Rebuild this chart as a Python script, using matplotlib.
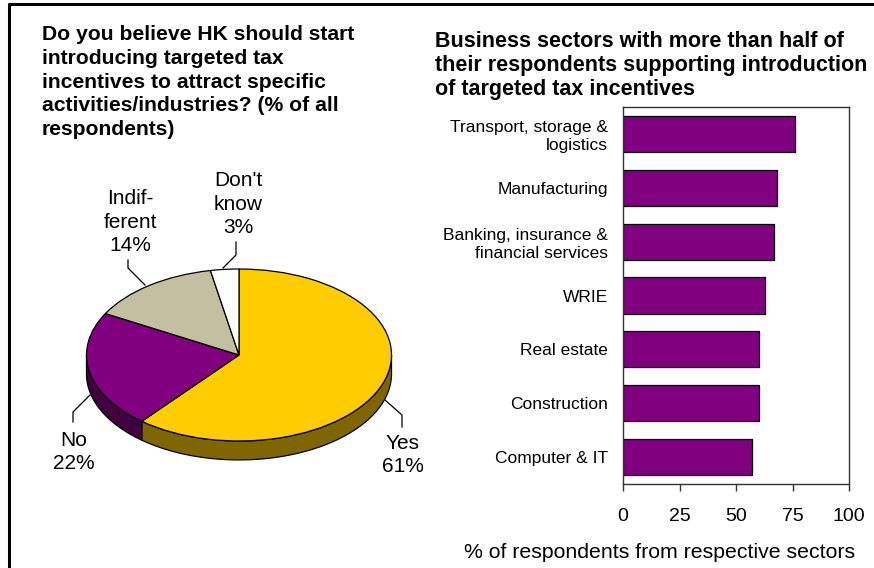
import numpy as np
import matplotlib
matplotlib.use("Agg")
import matplotlib.pyplot as plt

plt.rcParams["font.family"] = ["Liberation Sans", "DejaVu Sans"]

# survey answers (% of all respondents)
pie_labels = ["Yes", "No", "Indif-\nferent", "Don't\nknow"]
pie_values = [61, 22, 14, 3]
pie_colors = ["#FFCC00", "#800080", "#C3BFA1", "#FFFFFF"]
pie_side_colors = ["#806600", "#400040", "#62604F", "#808080"]

# sectors with majority support
sectors = [
    "Transport, storage &\nlogistics",
    "Manufacturing",
    "Banking, insurance &\nfinancial services",
    "WRIE",
    "Real estate",
    "Construction",
    "Computer & IT",
]
sector_values = [76, 68, 67, 63, 60, 60, 57]

W, H = 874, 568


def px_rect(left, top, right, bottom):
    return [left / W, 1 - bottom / H, (right - left) / W, (bottom - top) / H]


fig = plt.figure(figsize=(W / 100, H / 100), dpi=100)

# ---- 3D-looking pie ----
cx, cy, a, b, depth = 239, 355, 152.5, 86, 0.22
pl, pt, pr, pb = 20, 160, 440, 520
ax_pie = fig.add_axes(px_rect(pl, pt, pr, pb))

fracs = np.array(pie_values) / sum(pie_values)
bounds = 90 - 360 * np.concatenate([[0], np.cumsum(fracs)])
for i in range(len(pie_values)):
    lo = max(bounds[i + 1], -180)
    hi = min(bounds[i], 0)
    if lo >= hi:
        continue
    th = np.radians(np.linspace(lo, hi, 80))
    xs = np.cos(th)
    ys = np.sin(th)
    ax_pie.fill(np.r_[xs, xs[::-1]], np.r_[ys, ys[::-1] - depth],
                facecolor=pie_side_colors[i], edgecolor="black", linewidth=0.9)

ax_pie.pie(pie_values, colors=pie_colors, startangle=90, counterclock=False,
           wedgeprops=dict(edgecolor="black", linewidth=0.9))
ax_pie.set_aspect("auto")
ax_pie.set_xlim(-(cx - pl) / a, (pr - cx) / a)
ax_pie.set_ylim(-(pb - cy) / b, (cy - pt) / b)
ax_pie.axis("off")

# ---- bar chart ----
ax = fig.add_axes(px_rect(623, 107, 849, 484))
y = np.arange(len(sectors))
ax.barh(y, sector_values, height=0.67, color="#800080", edgecolor="black", linewidth=0.9)
ax.set_ylim(len(sectors) - 0.5, -0.5)
ax.set_xlim(0, 100)
ax.set_xticks([0, 25, 50, 75, 100])
ax.set_yticks(y, labels=sectors)
ax.tick_params(axis="y", length=0, pad=11, labelsize=12.5)
ax.tick_params(axis="x", direction="out", length=5, width=1, pad=12, labelsize=14,
               color="#333333")
for sp in ax.spines.values():
    sp.set_color("#333333")
    sp.set_linewidth(1)
fig.text(660 / W, 1 - 552 / H, "% of respondents from respective sectors",
         ha="center", va="center", fontsize=15.3)

# ---- titles ----
fig.text(42 / W, 1 - 25 / H,
         "Do you believe HK should start\nintroducing targeted tax\n"
         "incentives to attract specific\nactivities/industries? (% of all\nrespondents)",
         ha="left", va="top", fontsize=15.2, fontweight="bold", linespacing=1.32)
fig.text(435 / W, 1 - 31 / H,
         "Business sectors with more than half of\ntheir respondents supporting introduction\n"
         "of targeted tax incentives",
         ha="left", va="top", fontsize=15.5, fontweight="bold", linespacing=1.2)

# ---- overlay: frame, pie labels and leader lines ----
ov = fig.add_axes([0, 0, 1, 1])
ov.set_xlim(0, W)
ov.set_ylim(H, 0)
ov.axis("off")
ov.plot([9, 9, W + 5], [H + 5, 4, 4], color="black", linewidth=2.2, clip_on=False)

label_pos = [(403, 455), (74, 452), (130, 222), (238, 204)]
leaders = [
    ([385, 402, 402], [400, 415, 427]),
    ([90, 73, 73], [395, 412, 422]),
    ([145, 128, 128], [285, 268, 260]),
    ([223, 236, 236], [268, 255, 242]),
]
for name, val, (lx, ly), (lxs, lys) in zip(pie_labels, pie_values, label_pos, leaders):
    ov.text(lx, ly, f"{name}\n{val}%", ha="center", va="center",
            fontsize=15, linespacing=1.28)
    ov.plot(lxs, lys, color="black", linewidth=0.9)

fig.savefig("out.png", dpi=100)
